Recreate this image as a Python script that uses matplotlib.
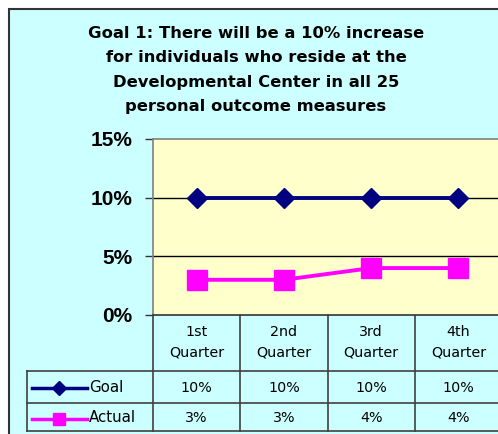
import matplotlib
matplotlib.use("Agg")
import matplotlib.pyplot as plt
from matplotlib import transforms
from matplotlib.patches import Rectangle
from matplotlib.lines import Line2D

categories = ["1st\nQuarter", "2nd\nQuarter", "3rd\nQuarter", "4th\nQuarter"]
goal = [10, 10, 10, 10]
actual = [3, 3, 4, 4]
goal_labels = ["10%", "10%", "10%", "10%"]
actual_labels = ["3%", "3%", "4%", "4%"]
yticks = [0, 5, 10, 15]
title = ("Goal 1: There will be a 10% increase\nfor individuals who reside at the\n"
         "Developmental Center in all 25\npersonal outcome measures")

W, H = 498, 434
fig = plt.figure(figsize=(W / 100, H / 100), dpi=100)
fig.patch.set_facecolor("white")
plt.rcParams['font.family'] = ['DejaVu Sans']

# overlay in pixel coords
ov = fig.add_axes([0, 0, 1, 1], zorder=0)
ov.set_xlim(0, W)
ov.set_ylim(H, 0)
ov.axis("off")
ov.add_patch(Rectangle((9, 9), W + 20, H + 20, facecolor="#CCFFFF",
                       edgecolor="#333333", linewidth=1.5))

ov.text(256, 70, title, ha="center", va="center", fontsize=11.8,
        fontweight="bold", linespacing=1.78, color="black")

# main axes
left, right, top, bottom = 153, 502, 139, 315
ax = fig.add_axes([left / W, 1 - bottom / H, (right - left) / W, (bottom - top) / H], zorder=2)
ax.set_facecolor("#FFFFCC")
x = list(range(len(categories)))
ax.set_xlim(-0.5, len(categories) - 0.5)
ax.set_ylim(0, 15)
ax.set_yticks(yticks)
ax.set_yticklabels([f"{v}%" for v in yticks], fontsize=15, fontweight="bold",
                   family="Liberation Sans")
ax.tick_params(axis="y", length=6, width=1, color="#333333", pad=9)
ax.tick_params(axis="x", length=0, labelbottom=False)
for v in yticks[1:-1]:
    ax.axhline(v, color="black", linewidth=1, zorder=1)
for s in ["left", "top", "right"]:
    ax.spines[s].set_color("#808080")
    ax.spines[s].set_linewidth(1.2)
ax.spines["bottom"].set_color("#333333")
ax.spines["bottom"].set_linewidth(1.2)

ax.plot(x, goal, color="#000080", linewidth=2.8, marker="D", markersize=10.5,
        markerfacecolor="#000080", markeredgecolor="#000080", zorder=3, clip_on=False)
ax.plot(x, actual, color="#FF00FF", linewidth=2.8, marker="s", markersize=15,
        markerfacecolor="#FF00FF", markeredgecolor="#FF00FF", zorder=3, clip_on=False)

# data table below the plot
bt = transforms.blended_transform_factory(ax.transData, ov.transData)
lc = "#404040"
for i, c in enumerate(categories):
    ov.text(i, 342, c, transform=bt, ha="center", va="center", fontsize=10.3,
            linespacing=1.62)
    ov.text(i, 388, goal_labels[i], transform=bt, ha="center", va="center", fontsize=10.3)
    ov.text(i, 418, actual_labels[i], transform=bt, ha="center", va="center", fontsize=10.3)
for b in [i - 0.5 for i in range(len(categories) + 1)]:
    ov.add_line(Line2D([b, b], [315, 431], transform=bt, color=lc, linewidth=1.2))
for yy in [371, 403, 431]:
    ov.add_line(Line2D([27, W + 5], [yy, yy], color=lc, linewidth=1.2))
ov.add_line(Line2D([27, 27], [371, 431], color=lc, linewidth=1.2))

# legend keys
ov.add_line(Line2D([32, 87], [388, 388], color="#000080", linewidth=2.5))
ov.add_line(Line2D([59], [388], color="#000080", marker="D", markersize=7, linestyle="none"))
ov.text(89, 388, "Goal", ha="left", va="center", fontsize=10.8)
ov.add_line(Line2D([32, 87], [419, 419], color="#FF00FF", linewidth=2.5))
ov.add_line(Line2D([59], [419], color="#FF00FF", marker="s", markersize=9, linestyle="none"))
ov.text(89, 418, "Actual", ha="left", va="center", fontsize=10.8)

fig.savefig("out.png", dpi=100)
